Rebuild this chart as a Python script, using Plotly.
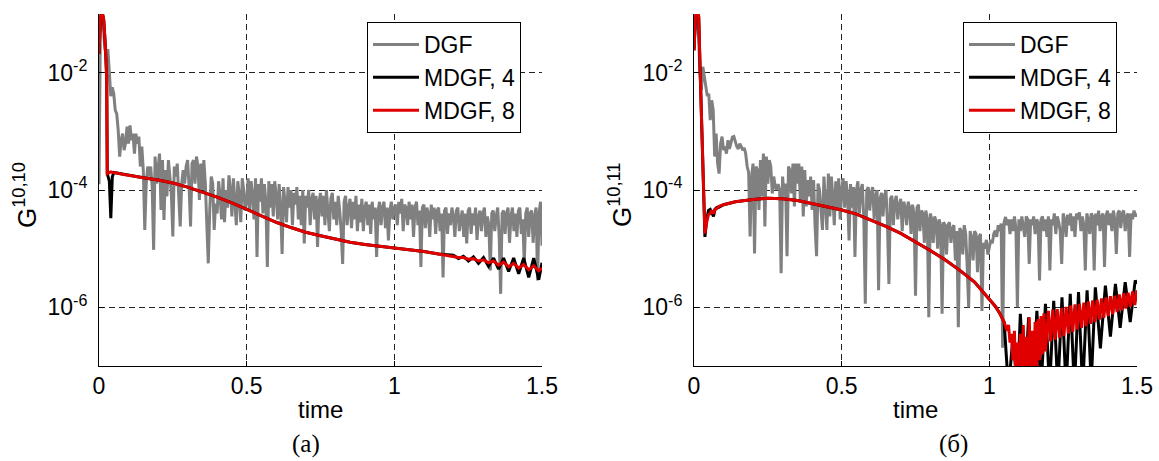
import numpy as np
import plotly.graph_objects as go

# ---------------- data (log10 of G) ----------------
# DGF series sampled every 0.005 time units (0 .. 1.5)
t_dgf = np.round(np.arange(301) * 0.005, 3)

dgf_a = [
    -3.9, -1.1, -1.05, -1.25, -1.6, -1.7, -1.6, -2.07, -2.4, -2.25,
    -2.36, -2.64, -2.7, -2.98, -3.43, -3.15, -3.04, -3.32, -3.2, -2.92,
    -3.21, -2.9, -3.15, -3.04, -3.38, -3.04, -3.21, -3.09, -3.6, -3.26,
    -3.66, -4.68, -3.89, -3.6, -3.77, -3.6, -3.94, -5.02, -3.43, -3.89,
    -3.55, -3.38, -4.34, -3.49, -4.51, -3.66, -4.11, -3.49, -3.77, -4.06,
    -4.79, -3.6, -3.77, -3.55, -4.11, -4.62, -3.89, -3.66, -3.89, -3.6,
    -3.49, -3.94, -4.62, -3.55, -3.49, -3.89, -3.43, -3.6, -4.17, -3.55,
    -4.0, -3.49, -3.89, -4.51, -5.25, -4.34, -3.77, -3.89, -4.68, -4.23,
    -4.4, -3.85, -4.1, -4.5, -3.8, -4.55, -4.0, -4.3, -3.75, -4.0,
    -4.45, -3.8, -4.2, -4.6, -3.85, -4.1, -4.55, -3.8, -4.0, -4.35,
    -4.2, -3.8, -4.35, -3.85, -4.1, -4.5, -3.8, -5.14, -3.9, -4.2,
    -3.8, -4.4, -3.9, -4.2, -5.31, -3.85, -4.3, -3.9, -4.45, -3.85,
    -4.1, -4.5, -3.9, -4.3, -5.09, -3.95, -4.2, -4.55, -3.95, -4.3,
    -4.0, -4.6, -4.05, -4.25, -3.95, -4.5, -4.1, -4.6, -4.0, -4.91,
    -4.1, -4.3, -4.0, -4.6, -4.15, -4.05, -4.5, -4.1, -4.97, -4.2,
    -4.05, -4.45, -4.1, -4.6, -4.0, -4.3, -4.7, -4.15, -4.05, -4.5,
    -4.2, -4.6, -4.1, -4.35, -4.7, -5.26, -4.2, -4.1, -4.6, -4.3,
    -4.15, -4.65, -4.2, -4.5, -4.1, -4.7, -4.25, -4.55, -4.15, -4.7,
    -4.3, -4.2, -4.6, -4.25, -4.75, -4.2, -4.5, -4.3, -5.14, -4.35,
    -4.2, -4.6, -4.3, -4.2, -4.65, -4.3, -4.86, -4.35, -4.2, -4.5,
    -4.3, -4.25, -4.6, -4.2, -4.4, -4.15, -4.7, -4.25, -4.3, -4.6,
    -4.2, -4.5, -4.25, -4.8, -4.3, -4.2, -4.6, -4.35, -5.31, -4.3,
    -4.25, -4.65, -4.3, -4.4, -4.8, -4.25, -4.5, -4.3, -4.75, -4.35,
    -4.3, -4.7, -4.4, -5.49, -4.35, -4.3, -4.75, -4.4, -4.6, -4.3,
    -4.45, -4.8, -4.35, -4.3, -4.7, -4.5, -4.35, -4.8, -4.4, -4.91,
    -4.35, -4.3, -4.75, -4.4, -4.6, -4.3, -4.85, -4.45, -4.35, -4.7,
    -4.4, -4.3, -4.8, -4.45, -4.6, -5.37, -4.4, -4.35, -4.7, -4.45,
    -4.3, -4.8, -5.77, -4.4, -4.35, -4.75, -4.4, -4.3, -4.9, -4.45,
    -4.3, -4.7, -4.4, -4.8, -4.35, -4.3, -4.75, -4.5, -5.26, -4.4,
    -4.3, -4.8, -4.4, -4.35, -4.9, -4.45, -4.3, -5.54, -4.4, -4.2,
    -4.95,
]

dgf_b = [
    -1.6, -1.05, -1.1, -1.3, -2.0, -2.3, -1.9, -2.1, -2.25, -2.4,
    -2.36, -2.81, -2.47, -2.64, -3.43, -3.04, -3.55, -3.72, -3.21, -3.09,
    -3.32, -3.26, -3.38, -3.15, -3.3, -3.21, -3.1, -3.09, -3.2, -3.26,
    -3.3, -3.21, -3.26, -3.32, -3.28, -3.38, -3.6, -3.7, -4.79, -3.77,
    -3.55, -5.08, -3.6, -3.66, -4.34, -3.49, -4.11, -3.38, -4.62, -3.43,
    -3.89, -3.49, -3.6, -4.06, -3.77, -3.94, -4.0, -3.9, -4.0, -5.42,
    -3.77, -4.11, -3.89, -5.13, -3.6, -3.66, -4.06, -3.55, -4.28, -3.55,
    -3.89, -3.55, -4.17, -3.6, -4.45, -3.66, -4.28, -3.83, -4.11, -3.77,
    -4.34, -3.83, -4.62, -5.13, -3.89, -4.0, -4.34, -4.68, -3.77, -4.28,
    -4.68, -3.72, -4.45, -3.77, -4.1, -4.6, -3.85, -4.3, -3.8, -4.5,
    -4.0, -3.8, -4.3, -3.85, -4.1, -4.86, -3.9, -4.3, -3.95, -5.14,
    -4.0, -3.85, -4.4, -4.0, -3.9, -4.5, -5.94, -4.0, -3.95, -4.35,
    -4.05, -3.95, -4.5, -4.1, -4.0, -5.71, -4.15, -4.05, -4.45, -4.1,
    -4.0, -4.55, -5.6, -4.15, -4.1, -4.6, -4.2, -4.1, -4.5, -4.25,
    -4.15, -4.7, -4.2, -4.3, -4.6, -4.2, -4.3, -4.75, -4.25, -4.4,
    -5.8, -4.3, -4.25, -4.7, -4.35, -4.4, -4.9, -4.35, -4.5, -6.17,
    -4.4, -4.5, -4.9, -4.45, -4.55, -5.0, -4.5, -4.6, -6.11, -4.55,
    -4.6, -5.1, -4.6, -4.55, -4.9, -4.65, -4.6, -5.2, -4.7, -6.34,
    -4.65, -4.7, -5.1, -4.6, -4.75, -5.3, -6.0, -4.7, -4.8, -5.2,
    -4.7, -4.75, -5.4, -4.8, -4.75, -6.06, -4.9, -5.0, -4.85, -5.1,
    -5.0, -4.85, -4.91, -4.75, -4.69, -4.8, -4.6, -4.7, -4.57, -6.69,
    -4.55, -4.46, -4.6, -4.5, -4.75, -4.5, -4.7, -4.45, -4.65, -6.0,
    -4.5, -4.7, -4.45, -4.6, -4.8, -4.45, -4.5, -5.26, -4.5, -4.6,
    -4.45, -4.75, -4.5, -4.55, -5.54, -4.5, -4.45, -4.7, -4.5, -4.8,
    -4.45, -5.37, -4.5, -4.6, -4.4, -4.75, -4.45, -4.55, -4.7, -5.26,
    -4.4, -4.5, -4.8, -4.42, -4.6, -4.4, -4.7, -4.45, -4.8, -4.4,
    -4.5, -4.38, -4.7, -4.45, -4.6, -5.37, -4.4, -4.5, -4.75, -4.4,
    -4.45, -5.37, -4.4, -4.6, -4.35, -4.7, -4.45, -4.4, -5.31, -4.45,
    -4.35, -4.6, -4.4, -4.7, -4.35, -4.5, -5.09, -4.4, -4.35, -4.65,
    -4.4, -4.35, -4.7, -4.45, -4.4, -5.14, -4.4, -4.5, -4.35, -4.45,
    -4.4,
]

# panel (a): MDGF curves
t_mdgf_a = [0, 0.005, 0.01, 0.016, 0.021, 0.026, 0.028, 0.035, 0.04, 0.045,
            0.05, 0.06, 0.08, 0.1, 0.15, 0.2, 0.25, 0.3, 0.35, 0.4,
            0.45, 0.5, 0.55, 0.6, 0.65, 0.7, 0.75, 0.8, 0.85, 0.9,
            0.95, 1.0, 1.05, 1.1, 1.15, 1.2, 1.217, 1.234, 1.251, 1.268,
            1.285, 1.302, 1.319, 1.336, 1.353, 1.37, 1.387, 1.404, 1.421, 1.438,
            1.455, 1.472, 1.489, 1.5]
mdgf4_a = [-1.68, -1.05, -0.95, -1.1, -1.5, -2.07, -3.72, -3.85, -4.48, -3.78,
           -3.7, -3.71, -3.73, -3.75, -3.79, -3.83, -3.88, -3.95, -4.03, -4.12,
           -4.22, -4.33, -4.44, -4.55, -4.64, -4.72, -4.78, -4.84, -4.89, -4.93,
           -4.96, -4.98, -5.01, -5.05, -5.09, -5.11, -5.17, -5.13, -5.21, -5.14,
           -5.25, -5.15, -5.3, -5.16, -5.35, -5.16, -5.39, -5.16, -5.43, -5.16,
           -5.49, -5.16, -5.53, -5.24]
mdgf8_a = [-1.68, -1.05, -0.95, -1.1, -1.5, -2.07, -3.72, -3.7, -3.69, -3.7,
           -3.7, -3.71, -3.73, -3.75, -3.79, -3.83, -3.88, -3.95, -4.03, -4.12,
           -4.22, -4.33, -4.44, -4.55, -4.64, -4.72, -4.78, -4.84, -4.89, -4.93,
           -4.96, -4.98, -5.01, -5.05, -5.09, -5.13, -5.15, -5.15, -5.18, -5.17,
           -5.21, -5.19, -5.24, -5.21, -5.28, -5.23, -5.31, -5.25, -5.33, -5.27,
           -5.36, -5.29, -5.38, -5.33]

# panel (б): MDGF curves
t_main_b = [0, 0.005, 0.01, 0.016, 0.021, 0.026, 0.03, 0.037, 0.043, 0.049,
            0.055, 0.06, 0.066, 0.071, 0.077, 0.083, 0.1, 0.14, 0.2, 0.25,
            0.3, 0.35, 0.4, 0.45, 0.5, 0.55, 0.6, 0.65, 0.7, 0.75,
            0.8, 0.85, 0.9, 0.95, 1.0, 1.02, 1.035, 1.05]
mdgf4_main_b = [-1.62, -1.05, -0.95, -1.05, -2.0, -3.0, -3.65, -4.8, -4.5, -4.35,
                -4.33, -4.38, -4.45, -4.33, -4.3, -4.3, -4.25, -4.2, -4.16, -4.14,
                -4.15, -4.18, -4.23, -4.28, -4.34, -4.41, -4.51, -4.62, -4.74, -4.88,
                -5.03, -5.19, -5.37, -5.57, -5.85, -5.98, -6.1, -6.25]
mdgf8_main_b = [-1.62, -1.05, -0.95, -1.05, -2.0, -3.0, -3.65, -4.74, -4.55, -4.42,
                -4.4, -4.35, -4.4, -4.33, -4.32, -4.28, -4.25, -4.2, -4.16, -4.14,
                -4.15, -4.18, -4.23, -4.28, -4.34, -4.41, -4.51, -4.62, -4.74, -4.88,
                -5.03, -5.19, -5.37, -5.57, -5.85, -5.98, -6.1, -6.25]

t_tail4_b = [1.065, 1.08, 1.095, 1.105, 1.12, 1.133, 1.147, 1.161, 1.175, 1.19,
             1.204, 1.218, 1.232, 1.246, 1.26, 1.274, 1.288, 1.302, 1.316, 1.331,
             1.345, 1.359, 1.376, 1.393, 1.41, 1.427, 1.443, 1.46, 1.477, 1.494, 1.5]
mdgf4_tail_b = [-7.4, -6.5, -7.4, -6.11, -7.4, -6.17, -7.4, -6.06, -7.4, -5.94,
                -7.4, -5.89, -7.4, -5.83, -7.4, -5.77, -7.4, -5.74, -7.4, -5.71,
                -7.3, -5.66, -6.7, -5.63, -6.5, -5.6, -6.35, -5.57, -6.25, -5.54, -5.6]

t_tail8_b = [1.06, 1.065, 1.07, 1.075, 1.08, 1.085, 1.09, 1.095, 1.1, 1.105,
             1.11, 1.115, 1.12, 1.125, 1.13, 1.135, 1.14, 1.145, 1.15, 1.155,
             1.16, 1.165, 1.17, 1.175, 1.18, 1.185, 1.19,
             1.2, 1.2075, 1.215, 1.2225, 1.23, 1.2375, 1.245, 1.2525, 1.26, 1.2675,
             1.275, 1.2825, 1.29, 1.2975, 1.305, 1.3125, 1.32, 1.3275, 1.335, 1.3425,
             1.35, 1.3575, 1.365, 1.3725, 1.38, 1.3875, 1.395, 1.4025, 1.41, 1.4175,
             1.425, 1.4325, 1.44, 1.4475, 1.455, 1.4625, 1.47, 1.4775, 1.485, 1.4925, 1.5]
mdgf8_tail_b = [-6.4, -6.3, -6.6, -6.45, -6.9, -6.4, -7.3, -6.6, -7.4, -6.45,
                -7.4, -6.3, -7.4, -6.5, -7.3, -6.17, -7.3, -6.4, -7.3, -6.25,
                -7.1, -6.2, -6.9, -6.15, -6.8, -6.1, -6.75,
                -6.06, -6.58, -6.04, -6.55, -6.03, -6.52, -6.01, -6.49, -5.99, -6.45,
                -5.97, -6.42, -5.95, -6.38, -5.94, -6.35, -5.92, -6.32, -5.9, -6.28,
                -5.88, -6.25, -5.87, -6.21, -5.85, -6.18, -5.83, -6.15, -5.81, -6.12,
                -5.8, -6.08, -5.78, -6.05, -5.76, -6.02, -5.75, -5.99, -5.73, -5.96, -5.71]

x_ticks = [0, 0.5, 1, 1.5]
x_ticktext = ["0", "0.5", "1", "1.5"]
y_ticks = [1e-6, 1e-4, 1e-2]
y_ticktext = ["10<sup>-6</sup>", "10<sup>-4</sup>", "10<sup>-2</sup>"]
names = ["DGF", "MDGF, 4", "MDGF, 8"]
colors = ["#808080", "#000000", "#e00000"]

# ---------------- figure ----------------
W, H = 1159, 461
FONT = "Liberation Sans"
SERIF = "Liberation Serif"
LW = 3

def pw(v):
    return [10.0 ** x for x in v]

fig = go.Figure()

# panel (a)
fig.add_trace(go.Scatter(x=t_dgf, y=pw(dgf_a), mode="lines", name=names[0],
                         line=dict(color=colors[0], width=LW), xaxis="x", yaxis="y", legend="legend"))
fig.add_trace(go.Scatter(x=t_mdgf_a, y=pw(mdgf4_a), mode="lines", name=names[1],
                         line=dict(color=colors[1], width=LW), xaxis="x", yaxis="y", legend="legend"))
fig.add_trace(go.Scatter(x=t_mdgf_a, y=pw(mdgf8_a), mode="lines", name=names[2],
                         line=dict(color=colors[2], width=LW), xaxis="x", yaxis="y", legend="legend"))

# panel (б)
fig.add_trace(go.Scatter(x=t_dgf, y=pw(dgf_b), mode="lines", name=names[0],
                         line=dict(color=colors[0], width=LW), xaxis="x2", yaxis="y2", legend="legend2"))
fig.add_trace(go.Scatter(x=list(t_main_b) + t_tail4_b, y=pw(mdgf4_main_b + mdgf4_tail_b), mode="lines",
                         name=names[1], line=dict(color=colors[1], width=LW),
                         xaxis="x2", yaxis="y2", legend="legend2"))
fig.add_trace(go.Scatter(x=list(t_main_b) + t_tail8_b, y=pw(mdgf8_main_b + mdgf8_tail_b), mode="lines",
                         name=names[2], line=dict(color=colors[2], width=LW),
                         xaxis="x2", yaxis="y2", legend="legend2"))

ydom = [1 - 366 / H, 1 - 14 / H]
xdom_a = [99 / W, 542 / W]
xdom_b = [694 / W, 1137 / W]

xcommon = dict(range=[0, 1.5], tickvals=x_ticks, ticktext=x_ticktext,
               ticks="inside", ticklen=5, tickcolor="black", tickwidth=1,
               showline=True, linecolor="black", linewidth=1,
               showgrid=True, gridcolor="#222222", gridwidth=1, griddash="6px,4px",
               zeroline=False, automargin=False,
               tickfont=dict(family=FONT, size=23, color="black"),
               ticklabelstandoff=-1)
ycommon = dict(type="log", range=[-7, -1], tickvals=y_ticks, ticktext=y_ticktext,
               ticks="inside", ticklen=5, tickcolor="black", tickwidth=1,
               showline=True, linecolor="black", linewidth=1,
               showgrid=True, gridcolor="#222222", gridwidth=1, griddash="6px,4px",
               zeroline=False, automargin=False,
               tickfont=dict(family=FONT, size=23, color="black"),
               ticklabelstandoff=6)

legcommon = dict(xanchor="left", yanchor="top", bordercolor="black", borderwidth=1,
                 bgcolor="white", font=dict(family=FONT, size=23, color="black"),
                 tracegroupgap=0, itemwidth=46)

fig.update_layout(
    width=W, height=H, autosize=False,
    margin=dict(l=0, r=0, t=0, b=0, pad=0, autoexpand=False),
    paper_bgcolor="white", plot_bgcolor="white",
    font=dict(family=FONT, size=23, color="black"),
    xaxis=dict(domain=xdom_a, anchor="y", **xcommon),
    yaxis=dict(domain=ydom, anchor="x", **ycommon),
    xaxis2=dict(domain=xdom_b, anchor="y2", **xcommon),
    yaxis2=dict(domain=ydom, anchor="x2", **ycommon),
    legend=dict(x=367 / W, y=1 - 22 / H, **legcommon),
    legend2=dict(x=963 / W, y=1 - 22 / H, **legcommon),
    showlegend=True,
)

ann = []
# x titles
for cx in [(xdom_a[0] + xdom_a[1]) / 2, (xdom_b[0] + xdom_b[1]) / 2]:
    ann.append(dict(text="time", x=cx, y=1 - 409 / H, xref="paper", yref="paper",
                    xanchor="center", yanchor="middle", showarrow=False,
                    font=dict(family=FONT, size=24, color="black")))
# y titles
for cx, txt in [(25 / W, "G<sup>10,10</sup>"), (620 / W, "G<sup>10,11</sup>")]:
    ann.append(dict(text=txt, x=cx, y=1 - 195 / H, xref="paper", yref="paper",
                    xanchor="center", yanchor="middle", textangle=-90, showarrow=False,
                    font=dict(family=FONT, size=26, color="black")))
# panel labels
for cx, txt in [(306 / W, "(a)"), (953 / W, "(б)")]:
    ann.append(dict(text=txt, x=cx, y=1 - 444 / H, xref="paper", yref="paper",
                    xanchor="center", yanchor="middle", showarrow=False,
                    font=dict(family=SERIF, size=25, color="black")))
fig.update_layout(annotations=ann)

fig.write_html("out.html",
               config={"displayModeBar": False, "responsive": False},
               post_script="document.body.style.margin='0';document.body.style.overflow='hidden';")
